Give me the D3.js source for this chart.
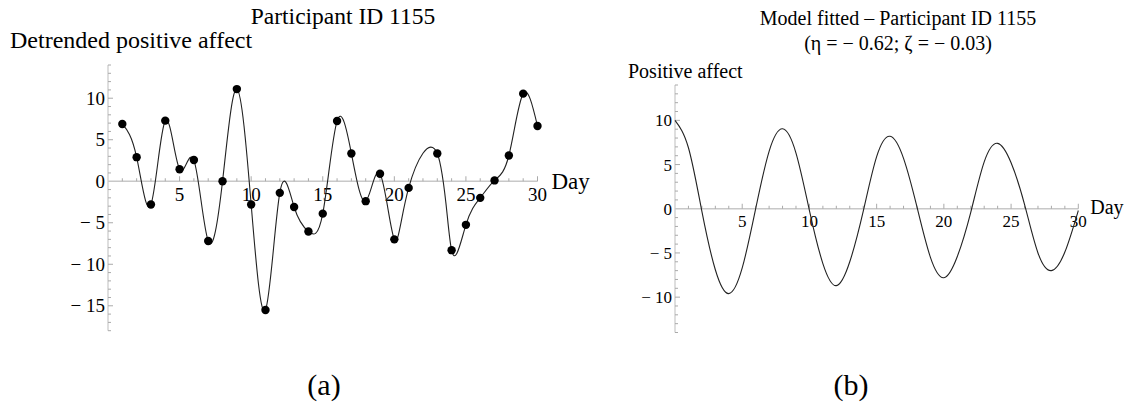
<!DOCTYPE html>
<html>
<head>
<meta charset="utf-8">
<script src="https://cdn.jsdelivr.net/npm/d3@7"></script>
<style>
  html, body { margin: 0; padding: 0; background: #fff; }
  svg { display: block; }
  text { font-family: "Liberation Serif", "Times New Roman", serif; fill: #000; }
</style>
</head>
<body>
<svg id="chart" width="1136" height="411"></svg>
<script>
// Observed detrended positive affect per day (day 22 not recorded)
const obsDays   = [1, 2, 3, 4, 5, 6, 7, 8, 9, 10, 11, 12, 13, 14, 15, 16, 17, 18, 19, 20, 21, 23, 24, 25, 26, 27, 28, 29, 30];
const obsValues = [6.9, 2.9, -2.8, 7.3, 1.45, 2.55, -7.2, 0.0, 11.1, -2.8, -15.5, -1.4, -3.1, -6.05, -3.9, 7.25, 3.35, -2.4, 0.9, -7.0, -0.8, 3.35, -8.3, -5.25, -2.0, 0.1, 3.1, 10.55, 6.65];

// Fitted model trajectory, read at each day
const fitDays   = d3.range(0, 31);
const fitValues = [10.0, 6.9, -0.3, -6.9, -9.6, -6.7, 0.0, 6.5, 9.05, 6.3, -0.2, -6.2, -8.7, -6.0, -0.3, 5.9, 8.2, 5.7, 0.2, -5.5, -7.8, -5.4, -0.4, 5.3, 7.4, 5.2, 0.5, -5.0, -7.0, -4.9, -0.2];

// Tick values
const dayTicks      = [5, 10, 15, 20, 25, 30];
const leftYTicks    = [-15, -10, -5, 0, 5, 10];
const rightYTicks   = [-10, -5, 0, 5, 10];

const svg = d3.select("#chart");
const fmt = v => v < 0 ? "\u2212 " + Math.abs(v) : String(v);

function drawAxes(g, x, y, opts) {
  const x0 = x(0), y0 = y(0);
  const [yBottom, yTop] = y.range();
  const [xl, xr] = x.range();
  // vertical axis
  g.append("line").attr("x1", x0).attr("x2", x0).attr("y1", yTop).attr("y2", yBottom)
    .attr("stroke", "#bdbdbd").attr("stroke-width", 1);
  // horizontal axis
  g.append("line").attr("x1", xl).attr("x2", xr).attr("y1", y0).attr("y2", y0)
    .attr("stroke", "#c8c8c8").attr("stroke-width", 1.6);

  // y ticks (every unit; majors every 5), drawn inward to the right
  const [dmin, dmax] = y.domain();
  for (let v = Math.ceil(dmin); v <= Math.floor(dmax); v++) {
    if (v === 0) continue;
    const major = v % 5 === 0;
    g.append("line").attr("x1", x0).attr("x2", x0 + (major ? 5 : 3))
      .attr("y1", y(v)).attr("y2", y(v)).attr("stroke", "#aaa").attr("stroke-width", 1);
  }
  // x ticks (every day; majors every 5), drawn upward
  for (let d = 1; d <= 30; d++) {
    const major = d % 5 === 0;
    g.append("line").attr("x1", x(d)).attr("x2", x(d))
      .attr("y1", y0).attr("y2", y0 - (major ? 5 : 3)).attr("stroke", "#aaa").attr("stroke-width", 1);
  }
  // labels
  g.selectAll(".ylab").data(opts.yTicks).join("text")
    .attr("x", x0 - 3).attr("y", d => y(d)).attr("dy", "0.35em")
    .attr("text-anchor", "end").attr("font-size", opts.tickSize).text(fmt);
  g.selectAll(".xlab").data(dayTicks).join("text")
    .attr("x", d => x(d)).attr("y", y0 + opts.xLabOffset)
    .attr("text-anchor", "middle").attr("font-size", opts.tickSize).text(d => d);
  g.append("text").attr("x", xr + opts.dayDx).attr("y", y0 + opts.dayDy)
    .attr("font-size", opts.daySize).text("Day");
}

// ---- Panel (a): observed series ----
const xL = d3.scaleLinear().domain([0, 30]).range([108, 537.5]);
const yL = d3.scaleLinear().domain([-18, 14]).range([330.7, 65]);
const gA = svg.append("g");
drawAxes(gA, xL, yL, { yTicks: leftYTicks, tickSize: 19, xLabOffset: 20, dayDx: 14, dayDy: 8, daySize: 23 });

const obs = obsDays.map((d, i) => ({ d, v: obsValues[i] }));
gA.append("path").datum(obs)
  .attr("fill", "none").attr("stroke", "#222").attr("stroke-width", 1.1)
  .attr("d", d3.line().x(p => xL(p.d)).y(p => yL(p.v)).curve(d3.curveNatural));
gA.selectAll("circle").data(obs).join("circle")
  .attr("cx", p => xL(p.d)).attr("cy", p => yL(p.v)).attr("r", 4.2).attr("fill", "#000");

gA.append("text").attr("x", 343).attr("y", 24).attr("text-anchor", "middle")
  .attr("font-size", 23.5).text("Participant ID 1155");
gA.append("text").attr("x", 10).attr("y", 48).attr("font-size", 24).text("Detrended positive affect");
gA.append("text").attr("x", 324).attr("y", 395).attr("text-anchor", "middle")
  .attr("font-size", 30).text("(a)");

// ---- Panel (b): fitted model ----
const xR = d3.scaleLinear().domain([0, 30]).range([675, 1078.3]);
const yR = d3.scaleLinear().domain([-14, 14]).range([332.5, 85]);
const gB = svg.append("g");
drawAxes(gB, xR, yR, { yTicks: rightYTicks, tickSize: 17, xLabOffset: 18, dayDx: 12, dayDy: 5, daySize: 20 });

const fit = fitDays.map((d, i) => ({ d, v: fitValues[i] }));
gB.append("path").datum(fit)
  .attr("fill", "none").attr("stroke", "#222").attr("stroke-width", 1.1)
  .attr("d", d3.line().x(p => xR(p.d)).y(p => yR(p.v)).curve(d3.curveNatural));

gB.append("text").attr("x", 898).attr("y", 25).attr("text-anchor", "middle")
  .attr("font-size", 20).text("Model fitted \u2013 Participant ID 1155");
gB.append("text").attr("x", 898).attr("y", 50).attr("text-anchor", "middle")
  .attr("font-size", 20).text("(\u03b7 = \u2212 0.62; \u03b6 = \u2212 0.03)");
gB.append("text").attr("x", 628).attr("y", 78).attr("font-size", 20).text("Positive affect");
gB.append("text").attr("x", 851).attr("y", 395).attr("text-anchor", "middle")
  .attr("font-size", 30).text("(b)");
</script>
</body>
</html>
